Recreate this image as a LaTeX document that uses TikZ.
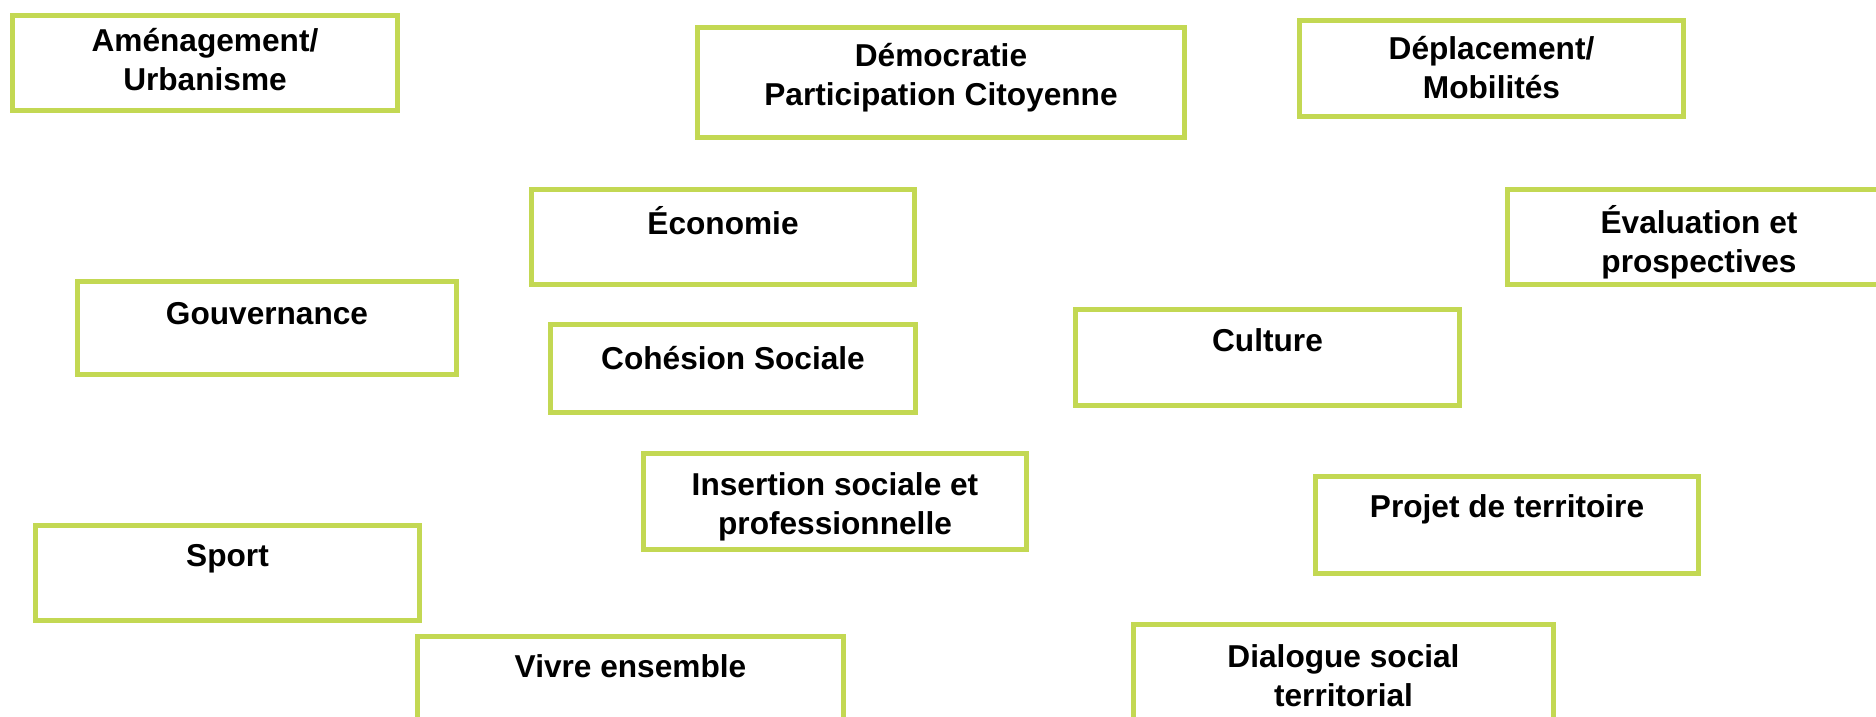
\documentclass[tikz,border=0pt]{standalone}
\usepackage{fontspec}
\setmainfont{Liberation Sans}
\usetikzlibrary{positioning}
\definecolor{themegreen}{RGB}{195,216,83}
\begin{document}
\begin{tikzpicture}[
			box/.style={draw=themegreen,line width=1.42pt,fill=white,inner sep=0pt},
			lbl/.style={inner sep=0pt,align=center,font=\fontsize{9}{11}\selectfont\bfseries,
				execute at begin node={\rule{0pt}{9pt}}}
		]
		\useasboundingbox (0,0) rectangle (18.76,-7.17);
		\node[box,minimum width=3.85cm,minimum height=0.95cm] (amen) at (2.05,-0.63) {};
		\node[lbl,below=0.15cm of amen.north] (amen-t) {Aménagement/\\Urbanisme};
		\node[box,minimum width=4.87cm,minimum height=1.10cm] (demo) at (9.41,-0.825) {};
		\node[lbl,below=0.18cm of demo.north] (demo-t) {Démocratie\\Participation Citoyenne};
		\node[box,minimum width=3.84cm,minimum height=0.96cm] (depl) at (14.915,-0.685) {};
		\node[lbl,below=0.18cm of depl.north] (depl-t) {Déplacement/\\Mobilités};
		\node[box,minimum width=3.83cm,minimum height=0.95cm] (econ) at (7.23,-2.37) {};
		\node[lbl,below=0.15cm of econ.north] (econ-t) {Économie};
		\node[box,minimum width=3.83cm,minimum height=0.95cm] (eval) at (16.99,-2.37) {};
		\node[lbl,below=0.18cm of eval.north] (eval-t) {Évaluation et\\prospectives};
		\node[box,minimum width=3.79cm,minimum height=0.93cm] (gouv) at (2.67,-3.28) {};
		\node[lbl,below=0.13cm of gouv.north] (gouv-t) {Gouvernance};
		\node[box,minimum width=3.65cm,minimum height=0.88cm] (cohe) at (7.33,-3.685) {};
		\node[lbl,below=0.15cm of cohe.north] (cohe-t) {Cohésion Sociale};
		\node[box,minimum width=3.84cm,minimum height=0.96cm] (cult) at (12.675,-3.575) {};
		\node[lbl,below=0.12cm of cult.north] (cult-t) {Culture};
		\node[box,minimum width=3.83cm,minimum height=0.96cm] (insr) at (8.35,-5.015) {};
		\node[lbl,below=0.21cm of insr.north] (insr-t) {Insertion sociale et\\professionnelle};
		\node[box,minimum width=3.84cm,minimum height=0.95cm] (sport) at (2.275,-5.73) {};
		\node[lbl,below=0.11cm of sport.north] (sport-t) {Sport};
		\node[box,minimum width=3.83cm,minimum height=0.97cm] (proj) at (15.07,-5.25) {};
		\node[lbl,below=0.11cm of proj.north] (proj-t) {Projet de territoire};
		\node[box,minimum width=4.26cm,minimum height=0.95cm] (vivre) at (6.305,-6.84) {};
		\node[lbl,below=0.11cm of vivre.north] (vivre-t) {Vivre ensemble};
		\node[box,minimum width=4.20cm,minimum height=0.95cm] (dial) at (13.435,-6.72) {};
		\node[lbl,below=0.22cm of dial.north] (dial-t) {Dialogue social\\territorial};
	\end{tikzpicture}
\end{document}
